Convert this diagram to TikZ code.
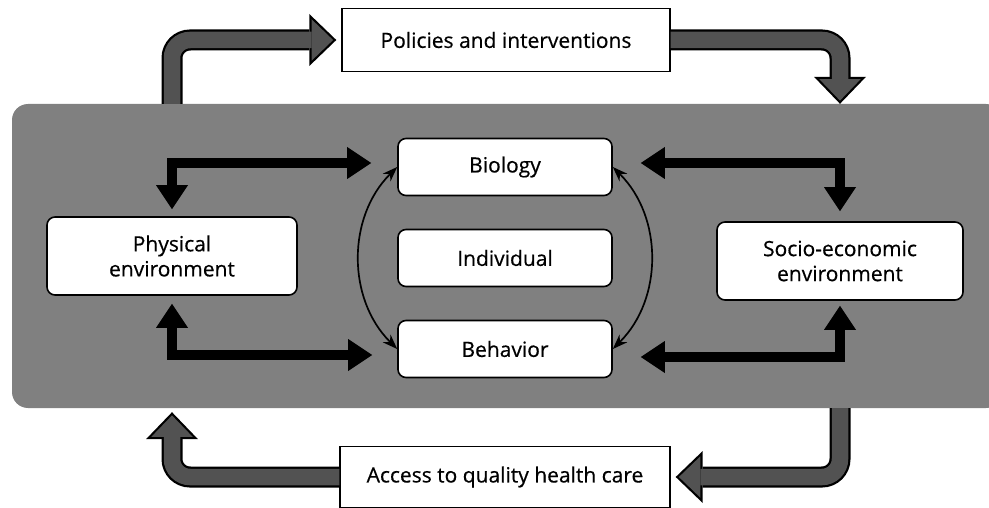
\documentclass[tikz,border=0pt]{standalone}
\usepackage{fontspec}
\setmainfont{Open Sans}[FakeBold=0.5]
\usetikzlibrary{arrows.meta}

\tikzset{
	box/.style={draw, line width=1.6pt, fill=white, rounded corners=8pt, align=center, inner sep=0pt},
	plainbox/.style={draw, line width=1.4pt, fill=white, align=center, inner sep=0pt},
	bigarrow/.style={draw=black, line width=21pt, rounded corners=18pt, -{Triangle[width=52pt,length=27pt,line width=0pt]}, shorten >=#1,
		postaction={draw=black!68, line width=16.5pt, -{Triangle[width=41.5pt,length=21.5pt,line width=0pt]}, shorten >=#1+3.2pt}},
	bigarrow/.default=0pt,
	link/.style={line width=10pt, {Triangle[width=32pt,length=24pt,line width=0pt]}-{Triangle[width=32pt,length=24pt,line width=0pt]}},
	swing/.style={line width=1.7pt, {Stealth[width=11pt,length=15pt,line width=0pt]}-{Stealth[width=11pt,length=15pt,line width=0pt]}}
}

\begin{document}
\begin{tikzpicture}[x=1pt, y=-1pt, font=\fontsize{21}{25}\selectfont]
	\useasboundingbox (0,0) rectangle (989,508);
	\node [fill=black!50, rounded corners=16pt, minimum width=990pt, minimum height=304pt, inner sep=0pt] at (507,256) (panel) {};

	\node [plainbox, minimum width=328pt, minimum height=63pt] at (506,40) (pol) {Policies and interventions};
	\node [plainbox, minimum width=330pt, minimum height=61pt] at (505,477) (acc) {Access to quality health care};
	\node [box, minimum width=250pt, minimum height=78pt] at (172,256) (phys) {Physical\\environment};
	\node [box, minimum width=246pt, minimum height=78pt] at (840,261) (soc) {Socio-economic\\environment};
	\foreach \y/\n/\t in {167/bio/Biology, 258/ind/Individual, 349/beh/Behavior}
		\node [box, minimum width=214pt, minimum height=57pt] at (505,\y) (\n) {\t};

	% loop round the panel
	\draw [bigarrow=5pt] (phys |- panel.north) |- (pol.west);
	\draw [bigarrow] (pol.east) -| (soc |- panel.north);
	\draw [bigarrow=5pt] (soc |- panel.south) |- (acc.east);
	\draw [bigarrow=4pt] (acc.west) -| (phys |- panel.south);

	\draw [link, shorten <=26pt, shorten >=7pt] ([yshift=4pt]bio.west) -| (phys.north);
	\draw [link, shorten <=28pt, shorten >=10pt] ([yshift=4pt]bio.east) -| (soc.north);
	\draw [link, shorten <=25pt, shorten >=8pt] ([yshift=-6pt]beh.west) -| (phys.south);
	\draw [link, shorten <=28pt, shorten >=5pt] ([yshift=-8pt]beh.east) -| (soc.south);

	\draw [swing] (bio.west) to [bend right=45] (beh.west);
	\draw [swing] (bio.east) to [bend left=45] (beh.east);
\end{tikzpicture}
\end{document}
